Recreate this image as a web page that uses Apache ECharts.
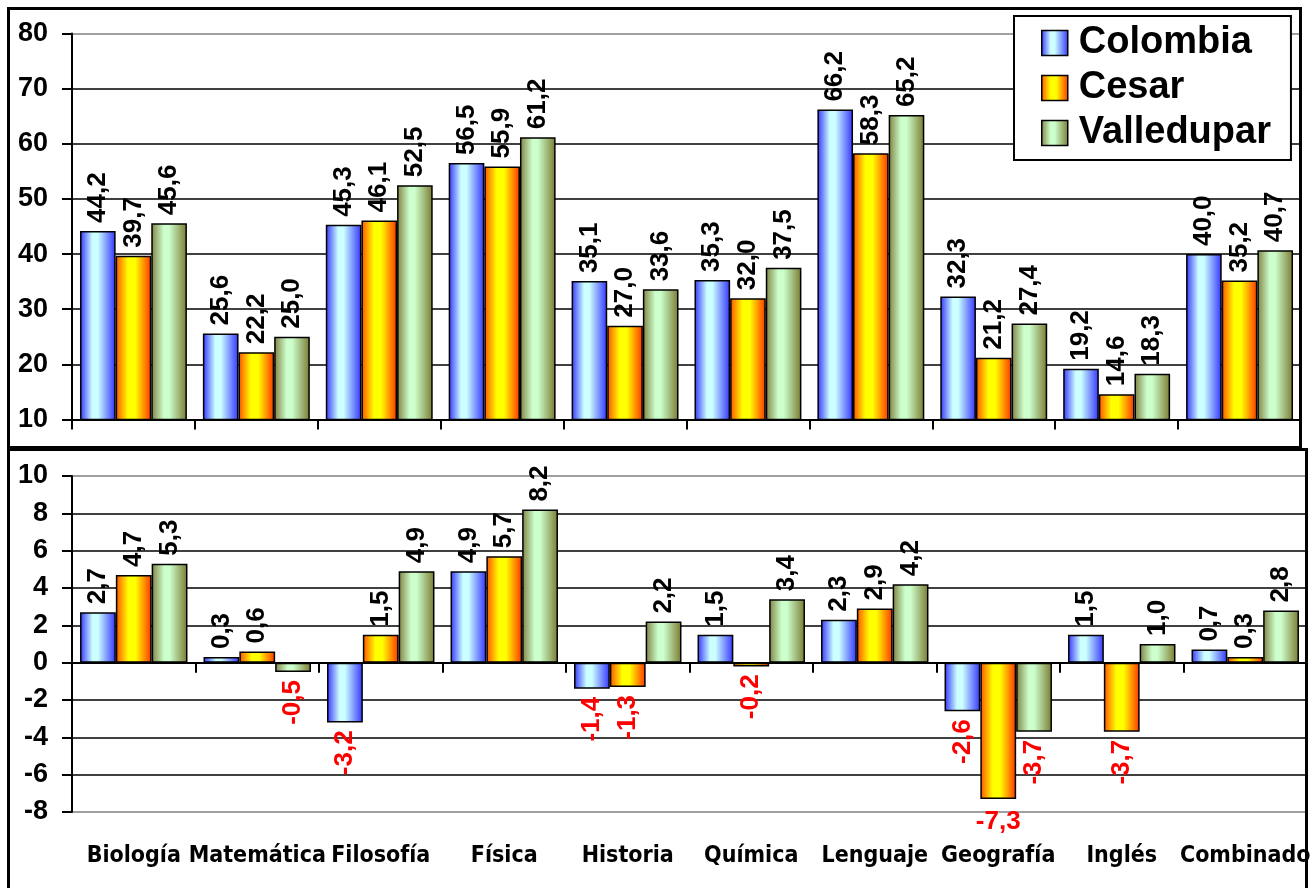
<!DOCTYPE html>
<html><head><meta charset="utf-8">
<script src="https://cdn.jsdelivr.net/npm/echarts@6/dist/echarts.min.js"></script>
<style>html,body{margin:0;padding:0;background:#fff;}#c{width:1315px;height:888px;}</style>
</head><body><div id="c"></div>
<script>
// ---- DATA ----
const categories = ['Biología','Matemática','Filosofía','Física','Historia','Química','Lenguaje','Geografía','Inglés','Combinado'];
const seriesNames = ['Colombia','Cesar','Valledupar'];
// top panel: scores
const scoreColombia   = [44.2, 25.6, 45.3, 56.5, 35.1, 35.3, 66.2, 32.3, 19.2, 40.0];
const scoreCesar      = [39.7, 22.2, 46.1, 55.9, 27.0, 32.0, 58.3, 21.2, 14.6, 35.2];
const scoreValledupar = [45.6, 25.0, 52.5, 61.2, 33.6, 37.5, 65.2, 27.4, 18.3, 40.7];
// bottom panel: differences
const diffColombia   = [2.7, 0.3, -3.2, 4.9, -1.4, 1.5, 2.3, -2.6, 1.5, 0.7];
const diffCesar      = [4.7, 0.6, 1.5, 5.7, -1.3, -0.2, 2.9, -7.3, -3.7, 0.3];
const diffValledupar = [5.3, -0.5, 4.9, 8.2, 2.2, 3.4, 4.2, -3.7, 1.0, 2.8];
// axis scales
const topMin = 10, topMax = 80, topStep = 10;
const botMin = -8, botMax = 10, botStep = 2;

// ---- STYLE ----
const NUM_FONT = '"Liberation Sans", Arial, sans-serif';
const CAT_FONT = '"DejaVu Sans Condensed", "DejaVu Sans", sans-serif';
const G = echarts.graphic.LinearGradient;
const fills = [
  new G(0,0,1,0,[{offset:0,color:'#3333FF'},{offset:0.35,color:'#CCFFFF'},{offset:0.5,color:'#CCFFFF'},{offset:1,color:'#3333FF'}]),
  new G(0,0,1,0,[{offset:0,color:'#FF5000'},{offset:0.35,color:'#FFFF00'},{offset:0.55,color:'#FFFF00'},{offset:1,color:'#FF3300'}]),
  new G(0,0,1,0,[{offset:0,color:'#808040'},{offset:0.35,color:'#CCFFCC'},{offset:0.5,color:'#CCFFCC'},{offset:1,color:'#7A7A30'}])
];
const fmt = p => Number(p.value).toFixed(1).replace('.', ',');
const baseLabel = {show:true, fontFamily:NUM_FONT, fontWeight:'bold', fontSize:26, formatter:fmt, distance:8};
const posLabel = Object.assign({}, baseLabel, {position:'top', rotate:90, align:'left', verticalAlign:'middle', color:'#000'});
const negLabel = Object.assign({}, baseLabel, {position:'bottom', rotate:90, align:'right', verticalAlign:'middle', color:'#FF0000'});
const negFlatLabel = Object.assign({}, baseLabel, {position:'bottom', rotate:0, align:'center', verticalAlign:'top', color:'#FF0000', distance:10});
function items(arr){
  return arr.map(v => ({value:v, label: v >= 0 ? posLabel : (v < -6 ? negFlatLabel : negLabel)}));
}
const topData = [scoreColombia, scoreCesar, scoreValledupar];
const botData = [diffColombia, diffCesar, diffValledupar];

const series = [];
seriesNames.forEach((n,i) => {
  series.push({name:n, type:'bar', xAxisIndex:0, yAxisIndex:0, barGap:'0%', barCategoryGap:'13%',
    itemStyle:{color:fills[i], borderColor:'#000', borderWidth:1.5}, data:items(topData[i])});
});
seriesNames.forEach((n,i) => {
  series.push({name:n, type:'bar', xAxisIndex:1, yAxisIndex:1, barGap:'0%', barCategoryGap:'13%',
    itemStyle:{color:fills[i], borderColor:'#000', borderWidth:1.5}, data:items(botData[i])});
});

const blk = '#000', gry = '#808080';
const topSplitColors = []; for (let v = topMin; v <= topMax; v += topStep) topSplitColors.push(v === topMax ? gry : blk);
const botSplitColors = []; for (let v = botMin; v <= botMax; v += botStep) botSplitColors.push((v === botMax || v === botMin) ? gry : blk);

const yLabel = {fontFamily:NUM_FONT, fontWeight:'bold', fontSize:27, color:'#000', margin:24};
const option = {
  animation:false,
  backgroundColor:'#fff',
  grid:[
    {left:72, top:33.5, right:14, height:386, containLabel:false, outerBoundsMode:'none'},
    {left:72, top:476, right:8, height:336, containLabel:false, outerBoundsMode:'none'}
  ],
  legend:{
    data:seriesNames, orient:'vertical', left:1014, top:16,
    padding:[8,20,8,27], itemGap:7, itemWidth:26, itemHeight:25,
    borderColor:'#000', borderWidth:2, backgroundColor:'#fff',
    icon:'rect', itemStyle:{borderColor:'#000', borderWidth:1.5},
    textStyle:{fontFamily:NUM_FONT, fontWeight:'bold', fontSize:38, lineHeight:38, color:'#000', padding:[0,0,0,6]}
  },
  xAxis:[
    {type:'category', gridIndex:0, data:categories, position:'bottom',
     axisLine:{show:true, onZero:false, lineStyle:{color:blk, width:2}},
     axisTick:{show:true, inside:false, length:10, lineStyle:{color:blk, width:2}},
     axisLabel:{show:false}, splitLine:{show:false}},
    {type:'category', gridIndex:1, data:categories, position:'bottom',
     axisLine:{show:true, onZero:true, lineStyle:{color:blk, width:2}},
     axisTick:{show:true, inside:false, length:10, lineStyle:{color:blk, width:2}},
     axisLabel:{show:false}, splitLine:{show:false}},
    {type:'category', gridIndex:1, data:categories, position:'bottom',
     axisLine:{show:false, onZero:false}, axisTick:{show:false},
     axisLabel:{show:true, interval:0, margin:33, fontFamily:CAT_FONT, fontWeight:'bold', fontSize:23, color:'#000'},
     splitLine:{show:false}}
  ],
  yAxis:[
    {type:'value', gridIndex:0, min:topMin, max:topMax, interval:topStep,
     axisLine:{show:true, lineStyle:{color:blk, width:2}},
     axisTick:{show:true, inside:false, length:10, lineStyle:{color:blk, width:2}},
     axisLabel:yLabel,
     splitLine:{show:true, lineStyle:{color:topSplitColors, width:1.5}}},
    {type:'value', gridIndex:1, min:botMin, max:botMax, interval:botStep,
     axisLine:{show:true, onZero:false, lineStyle:{color:blk, width:2}},
     axisTick:{show:true, inside:false, length:10, lineStyle:{color:blk, width:2}},
     axisLabel:yLabel,
     splitLine:{show:true, lineStyle:{color:botSplitColors, width:1.5}}}
  ],
  graphic:[
    {type:'rect', silent:true, z:100, shape:{x:8.5, y:8.5, width:1292, height:439}, style:{fill:null, stroke:'#000', lineWidth:3}},
    {type:'rect', silent:true, z:100, shape:{x:8.5, y:449.5, width:1298, height:460}, style:{fill:null, stroke:'#000', lineWidth:3}}
  ],
  series:series
};
const chart = echarts.init(document.getElementById('c'), null, {renderer:'canvas'});
chart.setOption(option);
</script></body></html>
